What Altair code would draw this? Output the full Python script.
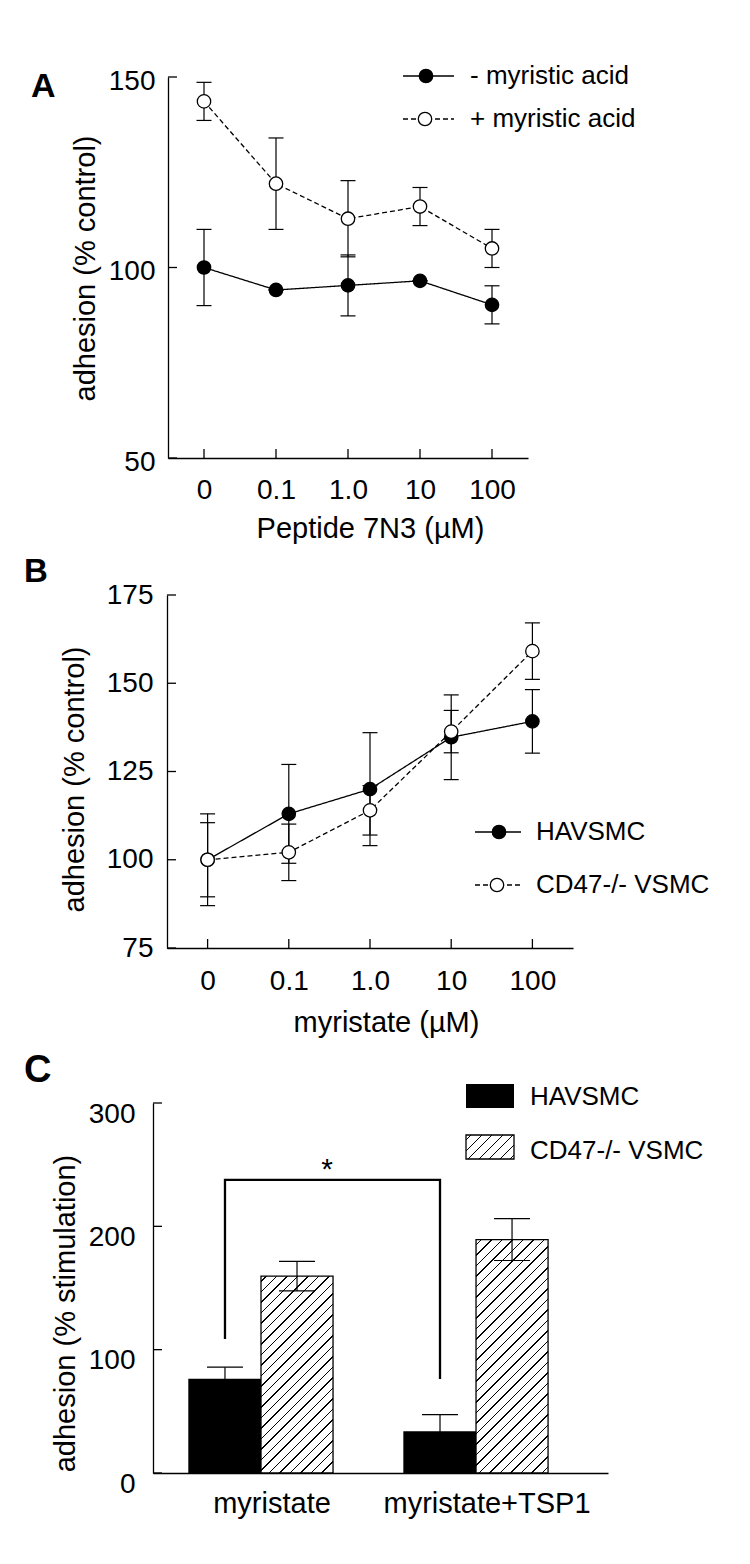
import altair as alt
import pandas as pd

FONT = "Liberation Sans"

# ---------------- data ----------------
# Panel A
a_conc = ["0", "0.1", "1.0", "10", "100"]
a_series = ["- myristic acid", "+ myristic acid"]
a_minus = [100.0, 94.1, 95.3, 96.5, 90.2]
a_minus_err = [10.0, 0.0, 8.0, 0.0, 5.0]
a_plus = [143.6, 122.0, 112.8, 116.0, 105.0]
a_plus_err = [5.0, 12.0, 10.0, 5.0, 5.0]

# Panel B
b_conc = ["0", "0.1", "1.0", "10", "100"]
b_series = ["HAVSMC", "CD47-/- VSMC"]
b_hav = [100.0, 113.0, 120.0, 134.7, 139.2]
b_hav_err = [13.0, 14.0, 16.0, 12.0, 9.0]
b_cd47 = [100.0, 102.1, 114.0, 136.3, 159.1]
b_cd47_err = [10.5, 8.0, 7.0, 6.0, 8.0]

# Panel C
c_groups = ["myristate", "myristate+TSP1"]
c_series = ["HAVSMC", "CD47-/- VSMC"]
c_hav = [75.8, 33.3]
c_hav_err = [10.0, 14.0]
c_cd47 = [159.6, 189.3]
c_cd47_err = [12.0, 17.0]
c_bracket_top = 237.6
c_bracket_left_low = 108.6
c_bracket_right_low = 76.2
c_star = "*"

panel_labels = ["A", "B", "C"]


def long_df(cats, series, v1, e1, v2, e2):
    n = len(cats)
    return pd.DataFrame({
        "conc": list(cats) * 2,
        "idx": list(range(n)) * 2,
        "series": [series[0]] * n + [series[1]] * n,
        "value": list(v1) + list(v2),
        "err": list(e1) + list(e2),
    })


def GS(o, c):
    return alt.GradientStop(offset=round(o, 5), color=c)


def hatch(W, H, step=10.5, lw=1.4):
    total = W + H
    k = total / (W * W + H * H)
    stops = [GS(0, "white")]
    c = step / 2
    while c + lw / 2 < total:
        a = (c - lw / 2) / total
        b = (c + lw / 2) / total
        stops += [GS(a, "white"), GS(a, "black"), GS(b, "black"), GS(b, "white")]
        c += step
    stops.append(GS(1, "white"))
    return alt.LinearGradient(gradient="linear", stops=stops, x1=0, y1=0,
                              x2=round(W * k, 5), y2=round(H * k, 5))


def one(label):
    return pd.DataFrame({"label": [label]})


AX = dict(domainColor="black", domainWidth=1.3, labelColor="black", titleColor="black",
          grid=False, ticks=False, tickSize=0, titleFontWeight="normal",
          titleBaseline="middle", titleAlign="center", labelLimit=0)

TICK_FS = 28
TITLE_FS = 29


def legend_row(x_line0, x_line1, x_sym, x_text, y, filled, dashed, label, fs=26):
    d = one(label)
    parts = [
        alt.Chart(d).mark_rule(color="black", strokeWidth=1.3,
                               strokeDash=[5, 3] if dashed else [1, 0]).encode(
            x=alt.value(x_line0), x2=alt.value(x_line1), y=alt.value(y)),
        alt.Chart(d).mark_circle(size=180, opacity=1, stroke="black", strokeWidth=1.3,
                                 fill="black" if filled else "white").encode(
            x=alt.value(x_sym), y=alt.value(y)),
        alt.Chart(d).mark_text(align="left", baseline="middle", fontSize=fs, color="black",
                               font=FONT).encode(
            x=alt.value(x_text), y=alt.value(y), text="label:N"),
    ]
    return parts


def panel_label(label, x, y, fs):
    return alt.Chart(one(label)).mark_text(align="left", baseline="alphabetic", fontSize=fs,
                                           fontWeight="bold", color="black", font=FONT).encode(
        x=alt.value(x), y=alt.value(y), text="label:N")


def line_panel(df, cats, series, W, H, xrange, ydom, yvals, yoff, ylabpad, ylaboff,
               ytitle, ytx, yty, xtitle, xtx, xty, xlabpad):
    xs = alt.Scale(type="point", domain=cats, range=xrange, padding=0.5)
    ys = alt.Scale(domain=ydom, nice=False, zero=False)
    xax = alt.Axis(title=xtitle, labelAngle=0, labelPadding=xlabpad, labelFontSize=TICK_FS,
                   titleFontSize=TITLE_FS, titleX=xtx, titleY=xty, **AX)
    yax = alt.Axis(title=ytitle, values=yvals, offset=yoff, labelPadding=ylabpad,
                   labelOffset=ylaboff, labelFontSize=TICK_FS, titleFontSize=TITLE_FS,
                   titleX=ytx, titleY=yty, titleAngle=270, **AX)
    X = alt.X("conc:N", scale=xs, axis=xax)

    def Y(f):
        return alt.Y(f, scale=ys, axis=yax)

    base = alt.Chart(df).transform_calculate(lo="datum.value - datum.err",
                                             hi="datum.value + datum.err")
    err = base.mark_rule(color="black", strokeWidth=1.2).encode(x=X, y=Y("lo:Q"), y2="hi:Q")
    cap_hi = base.mark_tick(orient="horizontal", size=15, thickness=1.2, color="black",
                            opacity=1).encode(x=X, y=Y("hi:Q"))
    cap_lo = base.mark_tick(orient="horizontal", size=15, thickness=1.2, color="black",
                            opacity=1).encode(x=X, y=Y("lo:Q"))
    line = alt.Chart(df).mark_line(color="black", strokeWidth=1.3).encode(
        x=X, y=Y("value:Q"), order=alt.Order("idx:Q"),
        strokeDash=alt.StrokeDash("series:N", scale=alt.Scale(domain=series,
                                  range=[[1, 0], [5, 3]]), legend=None))
    pts = alt.Chart(df).mark_circle(size=180, opacity=1, stroke="black", strokeWidth=1.3).encode(
        x=X, y=Y("value:Q"),
        fill=alt.Fill("series:N", scale=alt.Scale(domain=series, range=["black", "white"]),
                      legend=None))
    yt = alt.Chart(pd.DataFrame({"v": yvals})).mark_rule(color="black", strokeWidth=1.3).encode(
        y=Y("v:Q"), x=alt.value(xrange[0]), x2=alt.value(xrange[0] + 9))
    xt = alt.Chart(pd.DataFrame({"conc": cats})).mark_rule(color="black", strokeWidth=1.3).encode(
        x=X, y=alt.value(H), y2=alt.value(H - 9))
    return [yt, xt, err, cap_hi, cap_lo, line, pts]


# ---------------- panel A ----------------
dfA = long_df(a_conc, a_series, a_minus, a_minus_err, a_plus, a_plus_err)
A_W, A_H = 375, 381
layersA = line_panel(dfA, a_conc, a_series, A_W, A_H, [15, A_W], [50, 150], [50, 100, 150],
                     -15, 13, 4, "adhesion (% control)", -83, 191,
                     "Peptide 7N3 (µM)", 217, 70, 18)
layersA += legend_row(250, 301, 273, 317, -1, True, False, a_series[0])
layersA += legend_row(250, 301, 272, 317, 42, False, True, a_series[1])
layersA.append(panel_label(panel_labels[0], -122, 20, 34))
chartA = alt.layer(*layersA).properties(width=A_W, height=A_H)

# ---------------- panel B ----------------
dfB = long_df(b_conc, b_series, b_hav, b_hav_err, b_cd47, b_cd47_err)
B_W, B_H = 420, 353
layersB = line_panel(dfB, b_conc, b_series, B_W, B_H, [14, B_W], [75, 175],
                     [75, 100, 125, 150, 175], -14, 14, 0, "adhesion (% control)", -93, 184,
                     "myristate (µM)", 233, 74, 19)
layersB += legend_row(322, 368, 346, 383, 237, True, False, b_series[0])
layersB += legend_row(322, 368, 344, 383, 290, False, True, b_series[1])
layersB.append(panel_label(panel_labels[1], -129, -13, 33))
chartB = alt.layer(*layersB).properties(width=B_W, height=B_H)

# ---------------- panel C ----------------
C_W, C_H = 455, 388
C_TOP = 18
c_px_per_unit = (C_H - C_TOP) / 300.0
dfC = pd.DataFrame({
    "group": c_groups * 2,
    "series": [c_series[0]] * 2 + [c_series[1]] * 2,
    "value": c_hav + c_cd47,
    "err": c_hav_err + c_cd47_err,
})
xsC = alt.Scale(type="band", domain=c_groups, paddingInner=0.33, paddingOuter=0.223, align=0.375)
ysC = alt.Scale(domain=[0, 300], range=[C_H, C_TOP], nice=False, zero=True)
xaxC = alt.Axis(title=None, labelAngle=0, labelPadding=16, labelOffset=11, labelFontSize=29, **AX)
yaxC = alt.Axis(title="adhesion (% stimulation)", values=[0, 100, 200, 300], labelPadding=18,
                labelOffset=11, labelFontSize=TICK_FS, titleFontSize=TITLE_FS, titleX=-88,
                titleY=228, titleAngle=270, **AX)
XC = alt.X("group:N", scale=xsC, axis=xaxC)
XO = alt.XOffset("series:N", scale=alt.Scale(domain=c_series, paddingInner=0, paddingOuter=0))


def YC(f):
    return alt.Y(f, scale=ysC, axis=yaxC)


baseC = alt.Chart(dfC).transform_calculate(lo="datum.value - datum.err",
                                           hi="datum.value + datum.err")
layersC = []
layersC.append(baseC.transform_filter(alt.datum.series == c_series[0]).mark_bar(
    color="black", stroke="black", strokeWidth=1.3, opacity=1).encode(x=XC, xOffset=XO, y=YC("value:Q")))
for gi, g in enumerate(c_groups):
    grad = hatch(72.0, c_cd47[gi] * c_px_per_unit)
    layersC.append(baseC.transform_filter(
        (alt.datum.series == c_series[1]) & (alt.datum.group == g)).mark_bar(
        fill=grad, stroke="black", strokeWidth=1.3, opacity=1).encode(
        x=XC, xOffset=XO, y=YC("value:Q")))
layersC.append(baseC.mark_rule(color="black", strokeWidth=1.2).encode(
    x=XC, xOffset=XO, y=YC("lo:Q"), y2="hi:Q"))
layersC.append(baseC.mark_tick(orient="horizontal", size=36, thickness=1.2, color="black",
                               opacity=1).encode(x=XC, xOffset=XO, y=YC("hi:Q")))
layersC.append(baseC.mark_tick(orient="horizontal", size=36, thickness=1.2, color="black",
                               opacity=1).encode(x=XC, xOffset=XO, y=YC("lo:Q")))
# y ticks inward
layersC.append(alt.Chart(pd.DataFrame({"v": [0, 100, 200, 300]})).mark_rule(
    color="black", strokeWidth=1.3).encode(y=YC("v:Q"), x=alt.value(0), x2=alt.value(9)))
# significance bracket
dfBr = pd.DataFrame({
    "group": [c_groups[0], c_groups[0], c_groups[1], c_groups[1]],
    "series": [c_series[0]] * 4,
    "value": [c_bracket_left_low, c_bracket_top, c_bracket_top, c_bracket_right_low],
    "ord": [0, 1, 2, 3],
})
layersC.append(alt.Chart(dfBr).mark_line(color="black", strokeWidth=2.3, xOffset=-6).encode(
    x=XC, xOffset=XO, y=YC("value:Q"), order=alt.Order("ord:Q")))
layersC.append(alt.Chart(pd.DataFrame({"label": [c_star], "value": [c_bracket_top]})).mark_text(
    fontSize=30, baseline="alphabetic", align="center", dy=-1, color="black", font=FONT).encode(
    x=alt.value(174), y=YC("value:Q"), text="label:N"))
# legend
layersC.append(alt.Chart(one(c_series[0])).mark_rect(color="black").encode(
    x=alt.value(313), x2=alt.value(361), y=alt.value(-1), y2=alt.value(23)))
layersC.append(alt.Chart(one(c_series[1])).mark_rect(
    fill=hatch(48.0, 24.0), stroke="black", strokeWidth=1.3).encode(
    x=alt.value(313), x2=alt.value(361), y=alt.value(50), y2=alt.value(74)))
for lab, yy in zip(c_series, [12, 66]):
    layersC.append(alt.Chart(one(lab)).mark_text(align="left", baseline="middle", fontSize=26,
                                                 color="black", font=FONT).encode(
        x=alt.value(377), y=alt.value(yy), text="label:N"))
layersC.append(panel_label(panel_labels[2], -129, -3, 38))
chartC = alt.layer(*layersC).properties(width=C_W, height=C_H)

chart = alt.vconcat(chartA, chartB, chartC, spacing=137, bounds="flush").properties(
    padding={"left": 16, "top": 55, "right": 5, "bottom": 5}
).configure_view(stroke=None).configure_axis(labelFont=FONT, titleFont=FONT).configure_text(font=FONT)

chart.save("out.html", embed_options={"renderer": "svg", "actions": False})
